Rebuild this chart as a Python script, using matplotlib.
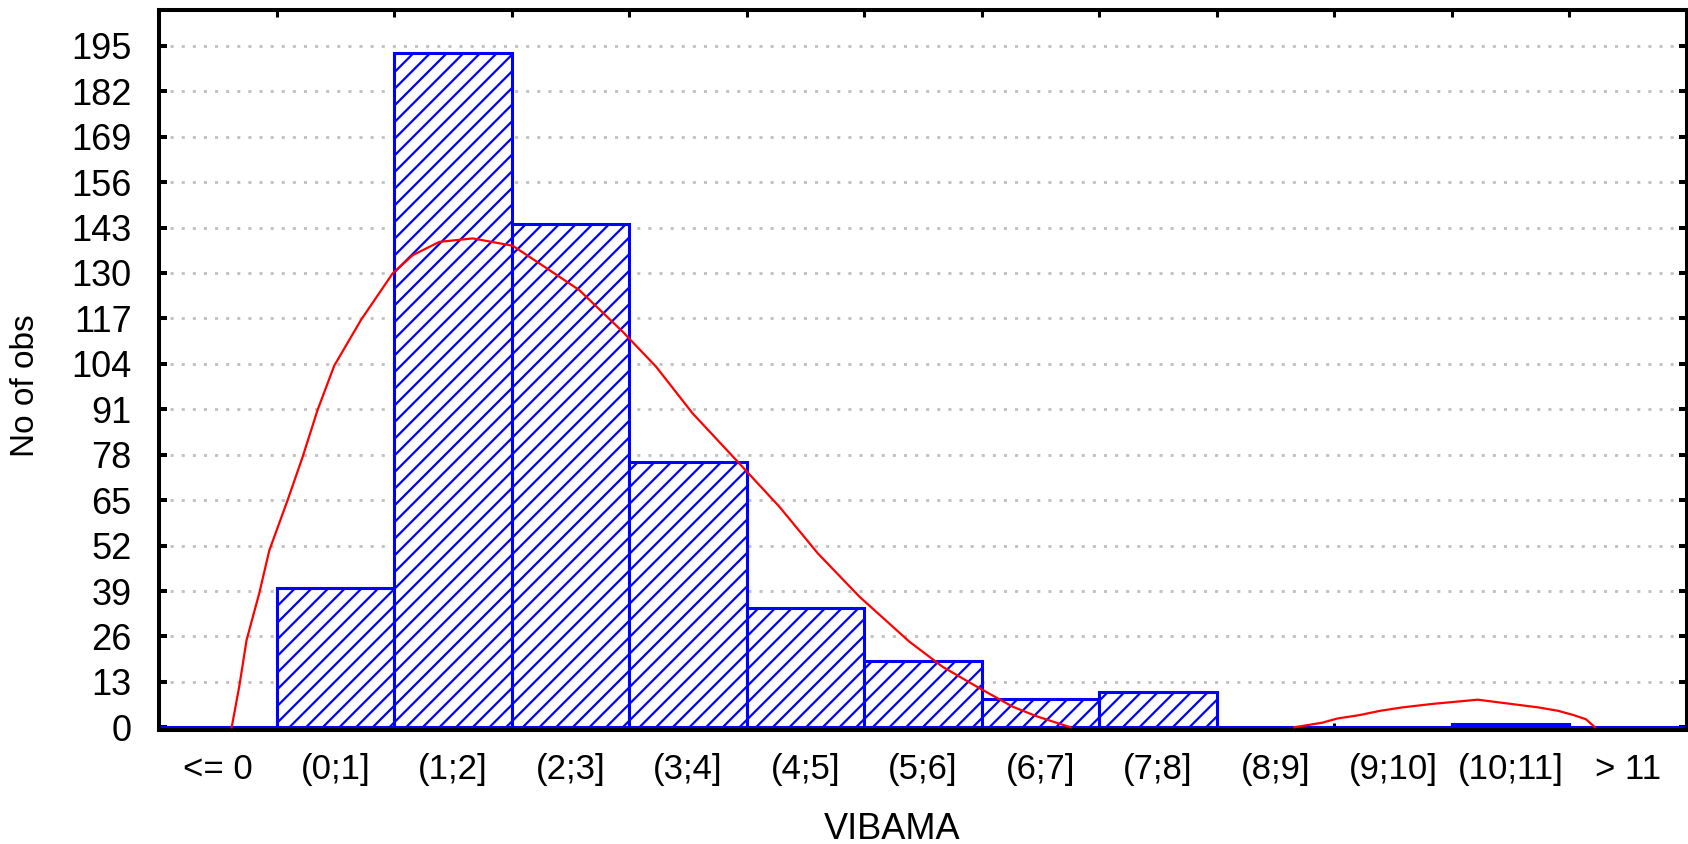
import numpy as np
import matplotlib
matplotlib.use("Agg")
import matplotlib.pyplot as plt
from matplotlib.ticker import FixedLocator

# histogram classes and counts
categories = ["<= 0", "(0;1]", "(1;2]", "(2;3]", "(3;4]", "(4;5]", "(5;6]",
              "(6;7]", "(7;8]", "(8;9]", "(9;10]", "(10;11]", "> 11"]
counts = [0, 40, 193, 144, 76, 34, 19, 8, 10, 0, 0, 1, 0]

y_ticks = [0, 13, 26, 39, 52, 65, 78, 91, 104, 117, 130, 143, 156, 169, 182, 195]

# fitted curve (red), in class-index units
fit1_x = [0.116, 0.18, 0.243, 0.351, 0.436, 0.592, 0.72, 0.847, 0.989, 1.217,
          1.486, 1.656, 1.883, 2.166, 2.507, 2.79, 3.074, 3.443, 3.727, 4.039,
          4.408, 4.777, 5.103, 5.457, 5.883, 6.166, 6.479, 6.762, 6.961, 7.217, 7.255]
fit1_y = [0.0, 11.6, 25.0, 38.4, 50.6, 65.0, 77.4, 90.8, 103.5, 116.6,
          129.9, 135.1, 138.9, 139.9, 137.8, 131.5, 125.1, 113.2, 103.2, 89.8,
          76.5, 63.1, 49.8, 37.4, 24.5, 17.3, 11.2, 5.9, 3.2, 0.4, 0.0]
fit2_x = [9.158, 9.394, 9.523, 9.715, 9.886, 10.079, 10.336, 10.72, 10.999,
          11.234, 11.405, 11.534, 11.64, 11.717]
fit2_y = [0.0, 1.3, 2.5, 3.5, 4.7, 5.7, 6.7, 7.9, 6.7, 5.7, 4.7, 3.5, 2.3, 0.0]

plt.rcParams['font.family'] = ['Liberation Sans Narrow', 'Liberation Sans', 'DejaVu Sans']
plt.rcParams['hatch.color'] = 'blue'
plt.rcParams['hatch.linewidth'] = 1.6

fig = plt.figure(figsize=(16.88, 8.44), dpi=100)
ax = fig.add_axes([0.09437, 0.13542, 0.90504, 0.85332])

pos = np.arange(len(categories))
ax.bar(pos, counts, width=1.0, facecolor='white', edgecolor='blue',
       linewidth=2.2, hatch='//', zorder=2)
ax.plot(fit1_x, fit1_y, color='red', linewidth=1.6, zorder=3)
ax.plot(fit2_x, fit2_y, color='red', linewidth=1.6, zorder=3)

ax.set_xlim(-0.5, len(categories) - 0.5)
ax.set_ylim(-0.69, 205.4)

ax.set_yticks(y_ticks)
ax.set_yticklabels([str(v) for v in y_ticks], fontsize=26)
ax.set_xticks(pos)
ax.set_xticklabels(categories, fontsize=25)
ax.xaxis.set_minor_locator(FixedLocator(np.arange(0.5, len(categories) - 0.5, 1.0)))

ax.tick_params(axis='x', which='major', length=0, pad=17)
ax.tick_params(axis='x', which='minor', direction='in', length=5, width=2.2,
               top=True, bottom=True)
ax.tick_params(axis='y', which='major', direction='in', length=6, width=2.9,
               left=True, right=True, pad=20)

for s in ax.spines.values():
    s.set_linewidth(2.9)

ax.grid(axis='y', color='#c0c0c0', linestyle=(0, (1.1, 2.9)), linewidth=2.0)
ax.set_axisbelow(True)

ax.set_xlabel('VIBAMA', fontsize=26, va='top')
ax.xaxis.set_label_coords(0.480, -0.114)
ax.set_ylabel('No of obs', fontsize=24, va='center')
ax.yaxis.set_label_coords(-0.0875, 0.4772)

fig.savefig('out.png', dpi=100)
